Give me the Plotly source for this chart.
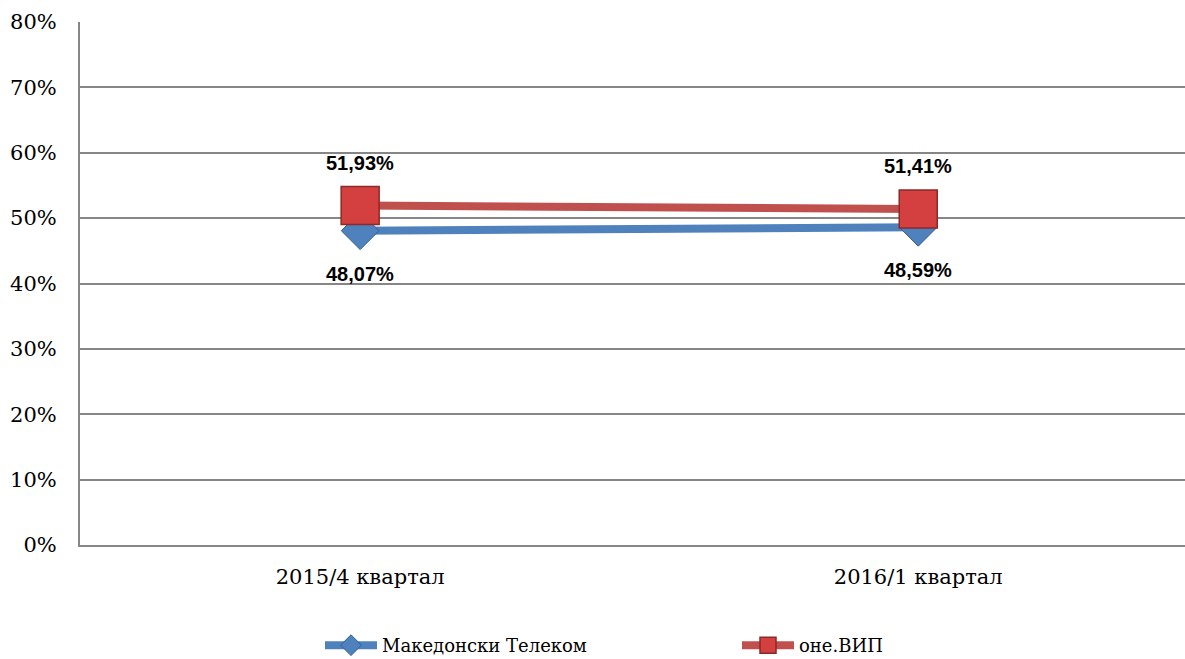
import plotly.graph_objects as go

categories = ["2015/4 квартал", "2016/1 квартал"]
telekom = [0.4807, 0.4859]
onevip = [0.5193, 0.5141]
series_names = ["Македонски Телеком", "оне.ВИП"]
y_ticks = [0, 0.1, 0.2, 0.3, 0.4, 0.5, 0.6, 0.7, 0.8]

blue = "#4F81BD"
red = "#C0504D"
serif = "DejaVu Serif, Liberation Serif, serif"

fig = go.Figure()
fig.add_trace(go.Scatter(
    x=[0, 1], y=telekom, name=series_names[0], mode="lines+markers",
    line=dict(color=blue, width=8),
    marker=dict(symbol="diamond", size=29, color=blue, line=dict(color="#2F5F95", width=1)),
))
fig.add_trace(go.Scatter(
    x=[0, 1], y=onevip, name=series_names[1], mode="lines+markers",
    line=dict(color=red, width=8),
    marker=dict(symbol="square", size=38, color="#D43F3F", line=dict(color="#8B2A28", width=1.5)),
))

def fmt(v):
    return "<b>" + f"{v*100:.2f}".replace(".", ",") + "%</b>"

for i, v in enumerate(onevip):
    fig.add_annotation(x=i, y=v, text=fmt(v), showarrow=False, yshift=43,
                       font=dict(family="Liberation Sans, Arial", size=20, color="black"))
for i, v in enumerate(telekom):
    fig.add_annotation(x=i, y=v, text=fmt(v), showarrow=False, yshift=-43,
                       font=dict(family="Liberation Sans, Arial", size=20, color="black"))

fig.update_layout(
    width=1185, height=659,
    margin=dict(l=80, r=0, t=22, b=114, autoexpand=False),
    paper_bgcolor="white", plot_bgcolor="white",
    separators=",.",
    font=dict(family=serif, color="black"),
    xaxis=dict(
        range=[-0.502, 1.478], tickvals=[0, 1], ticktext=categories,
        showgrid=False, showline=True, linecolor="#868686", linewidth=2,
        ticks="", ticklabelstandoff=12, tickfont=dict(size=21, family=serif),
        zeroline=False, automargin=False,
    ),
    yaxis=dict(
        range=[0, 0.8], tickvals=y_ticks, tickformat=".0%",
        showgrid=True, gridcolor="#868686", gridwidth=1.5,
        showline=True, linecolor="#868686", linewidth=2,
        ticks="", ticklabelstandoff=17,
        tickfont=dict(size=21, family=serif),
        zeroline=False, automargin=False,
    ),
    legend=dict(
        orientation="h", x=0.2172, xanchor="left", y=-0.2275, yanchor="bottom",
        font=dict(size=18, family=serif),
        entrywidth=350, itemwidth=52,
    ),
    showlegend=True,
)

fig.write_html(
    "out.html",
    config={"displayModeBar": False},
    post_script="document.body.style.margin='0';document.body.style.overflow='hidden';",
)
